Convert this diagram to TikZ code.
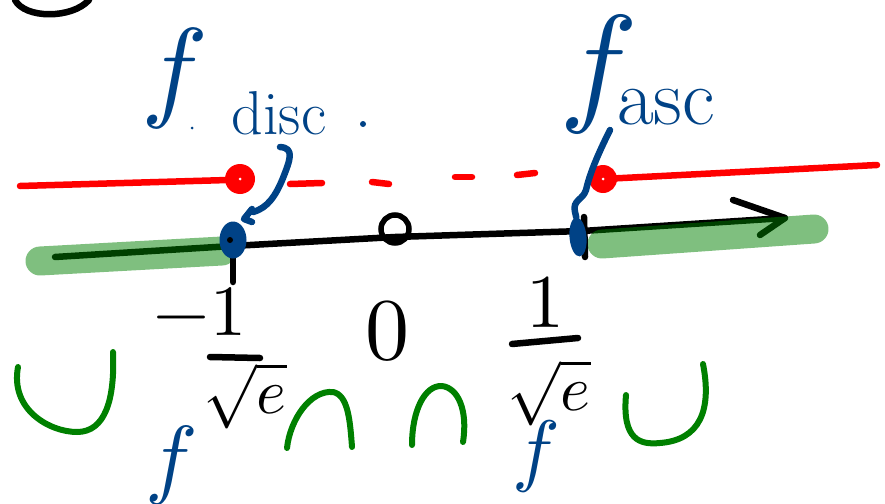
\documentclass[tikz,border=0pt]{standalone}
\usepackage{unicode-math}
\setmathfont{Latin Modern Math}
\usetikzlibrary{shapes.geometric}
\definecolor{penblue}{RGB}{0,66,134}
\definecolor{penred}{RGB}{255,0,0}
\definecolor{pengreen}{RGB}{0,128,0}
\tikzset{
  ink/.style={line width=6.5pt, line cap=round, line join=round},
  hilite/.style={pengreen, opacity=.5, line width=29pt, line cap=round},
  curve/.style={ink, pengreen, line width=6pt},
  bluetxt/.style={penblue, inner sep=0pt},
  blktxt/.style={black, inner sep=0pt},
}
\begin{document}
\begin{tikzpicture}[x=1pt,y=-1pt]
\useasboundingbox (0,0) rectangle (885,503);

% partial circle at top left
\draw[ink] (15,0) .. controls (25,19) and (72,19) .. (89,0);

% red function levels
\draw[ink, penred] (20,186) -- (228,180);
\node[circle, fill=penred, minimum size=30pt, inner sep=0pt] (rl) at (240,179) {};
\fill[white] (rl.center) circle (1.5pt);
\draw[ink, penred] (290,184) -- (322,183);
\draw[ink, penred] (372,182) -- (389,184);
\draw[ink, penred] (455,177) -- (472,177);
\draw[ink, penred] (517,175) -- (535,173);
\node[circle, fill=penred, minimum size=28pt, inner sep=0pt] (rr) at (603,179) {};
\draw[ink, penred] (rr.center) -- (877,165);
\fill[white] (rr.center) circle (1.5pt);

% axis
\coordinate (ax0) at (55,257);
\coordinate (ax1) at (785,218);
\draw[ink] (ax0) -- (232,246) -- (395,237) -- (582,231) -- (ax1);
\draw[ink] (733,200) -- (ax1) -- (760,235);
\node[circle, draw, line width=5.5pt, minimum size=28pt, inner sep=0pt] (zero) at (395,229) {};

% green highlighted intervals
\draw[hilite] (40,261) -- (222,251);
\draw[hilite] (602,244) -- (814,229);

% ticks
\draw[ink] (233,255) -- (233,282);
\draw[ink] (584,217) -- (585,257);

% blue points
\node[ellipse, fill=penblue, minimum width=27pt, minimum height=37pt, inner sep=0pt] (pl) at (233,240) {};
\node[fill=black, circle, minimum size=6pt, inner sep=0pt] at (230,240) {};
\node[ellipse, fill=penblue, minimum width=17pt, minimum height=39pt, inner sep=0pt, rotate=5] (pr) at (578,237) {};

% labels above
\node[bluetxt, font=\fontsize{112}{112}\selectfont] (fd) at (174,78) {$f$};
\fill[penblue] (192,128) circle (1.5pt);
\node[bluetxt, font=\fontsize{62}{62}\selectfont] (disc) at (279,113) {disc};
\fill[penblue] (363,124) circle (3pt);
\node[bluetxt, font=\fontsize{132}{132}\selectfont] (fa) at (598,74) {$f$};
\node[bluetxt, font=\fontsize{80}{80}\selectfont] (asc) at (666,107) {asc};

% blue pointers
\coordinate (d0) at (280,147);
\draw[ink, penblue] (d0) .. controls (295,148) and (290,160) .. (283,178)
  .. controls (276,195) and (268,208) .. (253,212);
\draw[ink, penblue] (252,209) -- (244,219) -- (252,222);
\coordinate (a0) at (610,130);
\draw[ink, penblue] (a0) .. controls (600,150) and (590,172) .. (586,190)
  .. controls (583,200) and (572,200) .. (575,212) -- (pr.north);

% labels below
\node[blktxt, font=\fontsize{72}{72}\selectfont] (m1) at (200,312) {$-1$};
\draw[ink] (210,357) -- (260,358);
\node[blktxt, font=\fontsize{64}{64}\selectfont] (se1) at (245,396) {$\sqrt{e}$};
\node[blktxt, font=\fontsize{88}{88}\selectfont] (o) at (387,331) {$0$};
\node[blktxt, font=\fontsize{76}{76}\selectfont] (p1) at (545,302) {$1$};
\draw[ink] (512,344) -- (578,338);
\node[blktxt, font=\fontsize{64}{64}\selectfont] (se2) at (549,393) {$\sqrt{e}$};

\node[bluetxt, font=\fontsize{88}{88}\selectfont] (fb1) at (171,465) {$f$};
\node[bluetxt, font=\fontsize{80}{80}\selectfont] (fb2) at (536,456) {$f$};

% convex / concave marks
\draw[curve] (18,367) .. controls (10,410) and (50,432) .. (77,432)
  .. controls (105,432) and (115,400) .. (113,352);
\draw[curve] (287,448) .. controls (290,420) and (310,390) .. (333,392)
  .. controls (348,395) and (350,420) .. (352,447);
\draw[curve] (412,445) .. controls (412,410) and (425,385) .. (442,386)
  .. controls (458,388) and (468,410) .. (463,442);
\draw[curve] (626,395) .. controls (622,440) and (640,445) .. (660,443)
  .. controls (700,440) and (712,410) .. (703,364);
\end{tikzpicture}
\end{document}
